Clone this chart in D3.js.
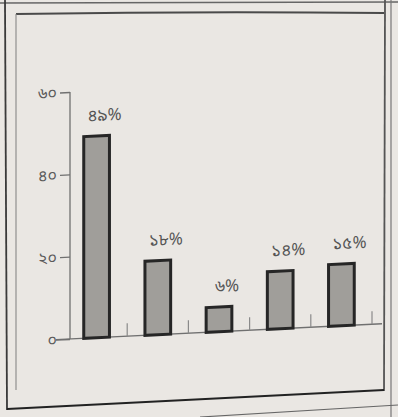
<!DOCTYPE html>
<html>
<head>
<meta charset="utf-8">
<script src="https://cdn.jsdelivr.net/npm/d3@7"></script>
<style>
  html, body { margin: 0; padding: 0; background: #eae7e3; }
  svg { display: block; }
</style>
</head>
<body>
<svg id="chart" width="398" height="417"></svg>
<script>
const categories = ["ক", "খ", "গ", "ঘ", "ঙ"];
const values = [49, 18, 6, 14, 15];
const valueLabels = ["৪৯%", "১৮%", "৬%", "১৪%", "১৫%"];
const yTicks = [0, 20, 40, 60];
const yTickLabels = ["০", "২০", "৪০", "৬০"];

const FONT = "'Noto Sans Bengali','Lohit Bengali','Noto Sans','DejaVu Sans',sans-serif";
const svg = d3.select("#chart");

// paper frame
const frame = svg.append("g").attr("fill", "none").attr("stroke", "#3a3a3a");
frame.append("path").attr("d", "M0,3 L398,2").attr("stroke-width", 1.5).attr("stroke", "#666");
frame.append("path").attr("d", "M5,0 L7,410").attr("stroke-width", 1.8);
frame.append("path").attr("d", "M16,14 Q200,11 384,13").attr("stroke-width", 2).attr("stroke", "#4a4a4a");
frame.append("path").attr("d", "M16,14 L16,390").attr("stroke-width", 1.1).attr("stroke", "#888");
frame.append("path").attr("d", "M385,0 L384,391").attr("stroke-width", 1.8).attr("stroke", "#555");
frame.append("path").attr("d", "M391,0 L391,417").attr("stroke-width", 1.2).attr("stroke", "#777");
frame.append("path").attr("d", "M7,409 L384,390").attr("stroke-width", 2.2).attr("stroke", "#222");
frame.append("path").attr("d", "M200,417 L398,405").attr("stroke-width", 1.2).attr("stroke", "#666");

const y = d3.scaleLinear().domain([0, 60]).range([339, 92]);
const x = d3.scaleBand().domain(categories).range([66, 372]).paddingInner(0.58).paddingOuter(0.29);

const chart = svg.append("g").attr("transform", "translate(70,0) skewY(-2.8) translate(-70,0)");

// y axis
const yAxis = d3.axisLeft(y).tickValues(yTicks).tickSize(10).tickPadding(3)
  .tickFormat((d, i) => yTickLabels[i]);
const ya = chart.append("g").attr("transform", "translate(70,0)").call(yAxis);
ya.select(".domain").attr("stroke", "#707070").attr("stroke-width", 1.3).attr("d", `M0,${y(60)}V${y(0)}`);
ya.selectAll(".tick line").attr("stroke", "#707070").attr("stroke-width", 1.3);
ya.selectAll(".tick text").attr("fill", "#5a5a5a").style("font-family", FONT).style("font-size", "16px");
ya.select(".tick:first-of-type line").attr("x2", -14);

// baseline
chart.append("line").attr("x1", 56).attr("x2", 382).attr("y1", y(0)).attr("y2", y(0))
  .attr("stroke", "#707070").attr("stroke-width", 1.3);

// category separator ticks
chart.selectAll(".sep").data(categories).join("line")
  .attr("class", "sep")
  .attr("x1", d => x(d) - x.step() * x.paddingInner() / 2 + x.step())
  .attr("x2", d => x(d) - x.step() * x.paddingInner() / 2 + x.step())
  .attr("y1", y(0)).attr("y2", y(0) - 13)
  .attr("stroke", "#8a8a8a").attr("stroke-width", 1.2);

// bars
chart.selectAll(".bar").data(values).join("rect")
  .attr("class", "bar")
  .attr("x", (d, i) => x(categories[i]))
  .attr("width", x.bandwidth())
  .attr("y", d => y(d))
  .attr("height", d => y(0) - y(d))
  .attr("fill", "#a09e9a")
  .attr("stroke", "#262626")
  .attr("stroke-width", 3);

// value labels
chart.selectAll(".vl").data(values).join("text")
  .attr("class", "vl")
  .attr("x", (d, i) => x(categories[i]) + x.bandwidth() / 2 + 8)
  .attr("y", d => y(d) - 15)
  .attr("text-anchor", "middle")
  .attr("fill", "#555")
  .style("font-family", FONT)
  .style("font-size", "17px")
  .text((d, i) => valueLabels[i]);
</script>
</body>
</html>
